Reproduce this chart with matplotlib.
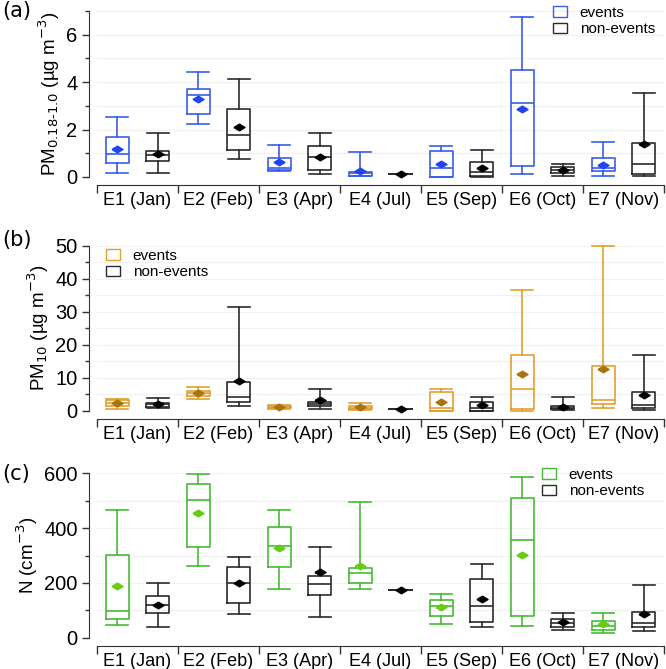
import matplotlib
matplotlib.use('Agg')
import matplotlib.pyplot as plt
from matplotlib.patches import Patch
import numpy as np

plt.rcParams['font.family'] = ['Liberation Sans', 'DejaVu Sans']

categories = ['E1 (Jan)', 'E2 (Feb)', 'E3 (Apr)', 'E4 (Jul)', 'E5 (Sep)', 'E6 (Oct)', 'E7 (Nov)']

# kolejnosc: whislo, q1, med, q3, whishi, mean
pm1_events = [
    [0.17, 0.59, 0.97, 1.69, 2.53, 1.18],
    [2.24, 2.65, 3.46, 3.70, 4.43, 3.30],
    [0.26, 0.30, 0.38, 0.79, 1.37, 0.62],
    [0.03, 0.05, 0.15, 0.20, 1.07, 0.25],
    [0.00, 0.02, 0.37, 1.10, 1.32, 0.56],
    [0.14, 0.45, 3.12, 4.52, 6.74, 2.87],
    [0.03, 0.27, 0.40, 0.82, 1.47, 0.50],
]
pm1_non = [
    [0.17, 0.68, 0.93, 1.10, 1.86, 0.97],
    [0.76, 1.14, 1.78, 2.88, 4.12, 2.12],
    [0.13, 0.28, 0.84, 1.31, 1.86, 0.86],
    [0.12, 0.12, 0.12, 0.12, 0.12, 0.12],
    [0.00, 0.05, 0.19, 0.62, 1.13, 0.40],
    [0.06, 0.16, 0.30, 0.41, 0.53, 0.30],
    [0.03, 0.13, 0.53, 1.45, 3.54, 1.40],
]

pm10_events = [
    [0.7, 1.6, 2.5, 3.2, 3.5, 2.4],
    [3.5, 4.5, 5.3, 6.1, 7.4, 5.5],
    [0.6, 0.8, 1.2, 1.6, 1.8, 1.2],
    [0.3, 0.5, 1.0, 1.5, 2.3, 1.2],
    [0.0, 0.1, 0.8, 5.6, 6.6, 2.7],
    [0.1, 0.6, 6.6, 16.9, 36.6, 11.1],
    [1.0, 2.1, 3.3, 13.6, 49.8, 12.7],
]
pm10_non = [
    [0.8, 1.1, 2.0, 2.5, 3.8, 2.1],
    [1.5, 2.6, 4.3, 8.7, 31.5, 9.2],
    [0.5, 1.5, 2.1, 2.8, 6.6, 3.3],
    [0.7, 0.7, 0.7, 0.7, 0.7, 0.7],
    [0.0, 0.1, 1.0, 2.6, 4.3, 1.7],
    [0.2, 0.5, 0.8, 1.6, 4.1, 1.2],
    [0.2, 0.8, 1.8, 5.6, 16.8, 4.9],
]

n_events = [
    [46, 68, 99, 302, 466, 189],
    [262, 330, 503, 560, 598, 454],
    [177, 259, 336, 403, 466, 329],
    [178, 199, 235, 256, 497, 262],
    [49, 79, 117, 138, 158, 111],
    [43, 79, 357, 509, 588, 302],
    [18, 28, 44, 62, 91, 49],
]
n_non = [
    [38, 89, 118, 153, 201, 119],
    [87, 128, 199, 259, 296, 199],
    [74, 155, 196, 225, 332, 239],
    [173, 173, 173, 173, 173, 173],
    [38, 59, 117, 216, 270, 140],
    [28, 40, 55, 67, 91, 57],
    [24, 40, 54, 95, 192, 85],
]

def staty(lista):
    out = []
    for w in lista:
        out.append({'whislo': w[0], 'q1': w[1], 'med': w[2], 'q3': w[3],
                    'whishi': w[4], 'mean': w[5], 'fliers': []})
    return out

# splaszczony romb jako znacznik sredniej
romb = [(-1, 0), (0, 0.6), (1, 0), (0, -0.6), (-1, 0)]

W, H = 666, 669
fig = plt.figure(figsize=(W / 100, H / 100), dpi=100)

def rysuj(top, bottom, ev, non, kolor, kolor_mean, ylim, major, minor, ylabel, litera, leg_xy, litera_y):
    ax = fig.add_axes([97 / W, 1 - bottom / H, 567 / W, (bottom - top) / H])
    x = np.arange(len(categories))
    for dane, pos, c, cm in [(ev, x - 0.25, kolor, kolor_mean), (non, x + 0.25, '#2b2b2b', 'black')]:
        props = dict(color=c, linewidth=1.2)
        ax.bxp(staty(dane), positions=pos, widths=0.29, showmeans=True, showfliers=False,
               boxprops=props, whiskerprops=props, capprops=props,
               medianprops=dict(color=c, linewidth=1.2),
               meanprops=dict(marker=romb, markersize=8, markerfacecolor=cm, markeredgecolor=cm),
               capwidths=0.27, manage_ticks=False)
    for art in ax.get_children():
        try:
            art.set_clip_on(False)
        except Exception:
            pass
    ax.set_xlim(-0.5, 6.5)
    ax.set_ylim(*ylim)
    ax.set_yticks(major)
    ax.set_yticks(minor, minor=True)
    ax.set_xticks(x)
    ax.set_xticklabels(categories)
    ax.set_xticks(np.arange(-0.5, 7, 1), minor=True)
    ax.tick_params(axis='x', which='major', length=0, pad=5, labelsize=13)
    ax.tick_params(axis='x', which='minor', length=6, width=1, color='#333333', direction='out')
    ax.tick_params(axis='y', which='major', length=5, width=1, labelsize=14.5, color='#333333', pad=3)
    ax.tick_params(axis='y', which='minor', length=3, width=1, color='#333333')
    for s in ['top', 'right']:
        ax.spines[s].set_visible(False)
    ax.spines['left'].set_position(('outward', 6))
    ax.spines['bottom'].set_position(('outward', 6))
    ax.spines['left'].set_color('#333333')
    ax.spines['bottom'].set_color('#333333')
    ax.grid(axis='y', which='both', color='#f0f0f0', linewidth=0.8)
    ax.set_axisbelow(True)
    ax.set_ylabel(ylabel, fontsize=13.5, labelpad=3)
    uchwyty = [Patch(facecolor='none', edgecolor=kolor, linewidth=1),
               Patch(facecolor='none', edgecolor='#2b2b2b', linewidth=1)]
    ax.legend(uchwyty, ['events', 'non-events'], loc='upper left', frameon=False,
              bbox_to_anchor=(leg_xy[0] / W, 1 - leg_xy[1] / H), bbox_transform=fig.transFigure,
              fontsize=11, handlelength=0.9, handletextpad=0.85, labelspacing=0.15,
              borderpad=0, borderaxespad=0)
    fig.text(2 / W, 1 - litera_y / H, litera, fontsize=15, family='DejaVu Sans', va='center', ha='left')
    return ax

rysuj(11, 177, pm1_events, pm1_non, '#3a5ce8', '#1f44f0', (0, 7), [0, 2, 4, 6], [1, 3, 5, 7],
      'PM$_{0.18\u20111.0}$ (\u00b5g m$^{-3}$)', '(a)', (553, 6), 11)
rysuj(245.7, 411, pm10_events, pm10_non, '#e0a030', '#a87410', (0, 50), [0, 10, 20, 30, 40, 50], [5, 15, 25, 35, 45],
      'PM$_{10}$ (\u00b5g m$^{-3}$)', '(b)', (106, 249), 240)
rysuj(473.3, 637.7, n_events, n_non, '#44bb33', '#66cc11', (0, 600), [0, 200, 400, 600], [100, 300, 500],
      'N (cm$^{-3}$)', '(c)', (542, 468), 474)

fig.savefig('out.png', dpi=100)
